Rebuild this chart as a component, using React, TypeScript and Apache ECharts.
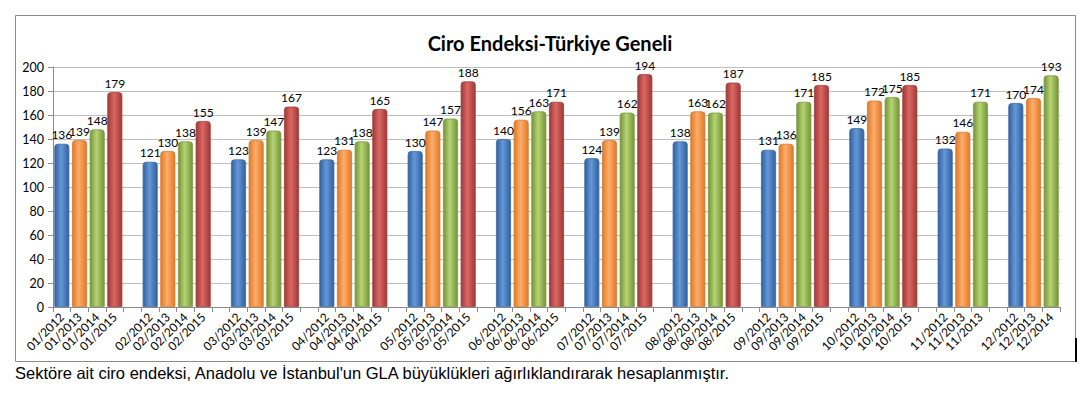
import React, { useEffect, useRef } from "react";
import * as echarts from "echarts";

const months = ["01", "02", "03", "04", "05", "06", "07", "08", "09", "10", "11", "12"];
const years = ["2012", "2013", "2014", "2015"];
const v2012 = [136, 121, 123, 123, 130, 140, 124, 138, 131, 149, 132, 170];
const v2013 = [139, 130, 139, 131, 147, 156, 139, 163, 136, 172, 146, 174];
const v2014 = [148, 138, 147, 138, 157, 163, 162, 162, 171, 175, 171, 193];
const v2015 = [179, 155, 167, 165, 188, 171, 194, 187, 185, 185];
// the original chart labels the green November bar "11/2013"
const labelFixes: Record<string, string> = { "11/2014": "11/2013" };
const yTicks = { min: 0, max: 200, interval: 20 };
const title = "Ciro Endeksi-Türkiye Geneli";
const caption =
  "Sektöre ait ciro endeksi, Anadolu ve İstanbul'un GLA büyüklükleri ağırlıklandırarak hesaplanmıştır.";

const palette = [
  { dark: "#33609a", light: "#6398da", border: "#3d6aa3" },
  { dark: "#e07a26", light: "#fdad6c", border: "#d7782c" },
  { dark: "#769436", light: "#b5d474", border: "#7d9a42" },
  { dark: "#9e3936", light: "#dc6763", border: "#a03d3a" },
];

function buildData() {
  const seriesValues = [v2012, v2013, v2014, v2015];
  const categories: string[] = [];
  const data: (number | null)[][] = [[], [], [], []];
  months.forEach((m, mi) => {
    years.forEach((y, yi) => {
      const val = seriesValues[yi][mi];
      if (val === undefined) return;
      const key = `${m}/${y}`;
      categories.push(labelFixes[key] || key);
      data.forEach((arr, si) => arr.push(si === yi ? val : null));
    });
    if (mi < months.length - 1) {
      categories.push("");
      data.forEach((arr) => arr.push(null));
    }
  });
  return { categories, data };
}

export default function App() {
  const ref = useRef<HTMLDivElement>(null);
  useEffect(() => {
    document.body.style.margin = "0";
    if (!ref.current) return;
    const chart = echarts.init(ref.current, undefined, { renderer: "svg" });
    const { categories, data } = buildData();
    const font = "Lato, 'Open Sans', sans-serif";
    chart.setOption({
      animation: false,
      backgroundColor: "#ffffff",
      title: {
        text: title,
        left: 545,
        textAlign: "center",
        top: 28,
        textStyle: { fontFamily: font, fontWeight: "bold", fontSize: 20, color: "#000" },
      },
      grid: { left: 53, right: 32, top: 67, bottom: 92, containLabel: false },
      xAxis: {
        type: "category",
        data: categories,
        axisLine: { lineStyle: { color: "#8c8c8c" } },
        axisTick: { show: true, interval: 0, length: 5, lineStyle: { color: "#8c8c8c" } },
        axisLabel: {
          interval: 0,
          rotate: 45,
          fontFamily: font,
          fontSize: 12,
          color: "#000",
          margin: 8,
        },
      },
      yAxis: {
        type: "value",
        min: yTicks.min,
        max: yTicks.max,
        interval: yTicks.interval,
        axisLine: { show: true, lineStyle: { color: "#8c8c8c" } },
        axisTick: { show: true, length: 5, lineStyle: { color: "#8c8c8c" } },
        splitLine: { lineStyle: { color: "#bfbfbf" } },
        axisLabel: { fontFamily: font, fontSize: 12.5, color: "#000", margin: 9 },
      },
      series: data.map((arr, si) => ({
        type: "bar",
        name: years[si],
        data: arr,
        barWidth: 15,
        barGap: "-100%",
        itemStyle: {
          color: new echarts.graphic.LinearGradient(0, 0, 1, 0, [
            { offset: 0, color: palette[si].dark },
            { offset: 0.45, color: palette[si].light },
            { offset: 1, color: palette[si].dark },
          ]),
          borderColor: palette[si].border,
          borderWidth: 0.8,
          borderRadius: [3, 3, 0, 0],
        },
        label: {
          show: true,
          position: "top",
          distance: 3,
          fontFamily: font,
          fontSize: 12,
          color: "#000",
        },
      })),
      graphic: [
        {
          type: "rect",
          shape: { x: 15.5, y: 15.5, width: 1060, height: 346 },
          style: { fill: "none", stroke: "#8c8c8c", lineWidth: 1 },
          silent: true,
        },
        {
          type: "line",
          shape: { x1: 1076, y1: 338, x2: 1076, y2: 362 },
          style: { stroke: "#000", lineWidth: 2 },
          silent: true,
        },
        {
          type: "text",
          left: 15,
          top: 364,
          style: {
            text: caption,
            font: "16.5px 'Liberation Sans', Arial, sans-serif",
            fill: "#000",
          },
          silent: true,
        },
      ],
    });
    return () => chart.dispose();
  }, []);
  return <div ref={ref} style={{ width: 1092, height: 399 }} />;
}
